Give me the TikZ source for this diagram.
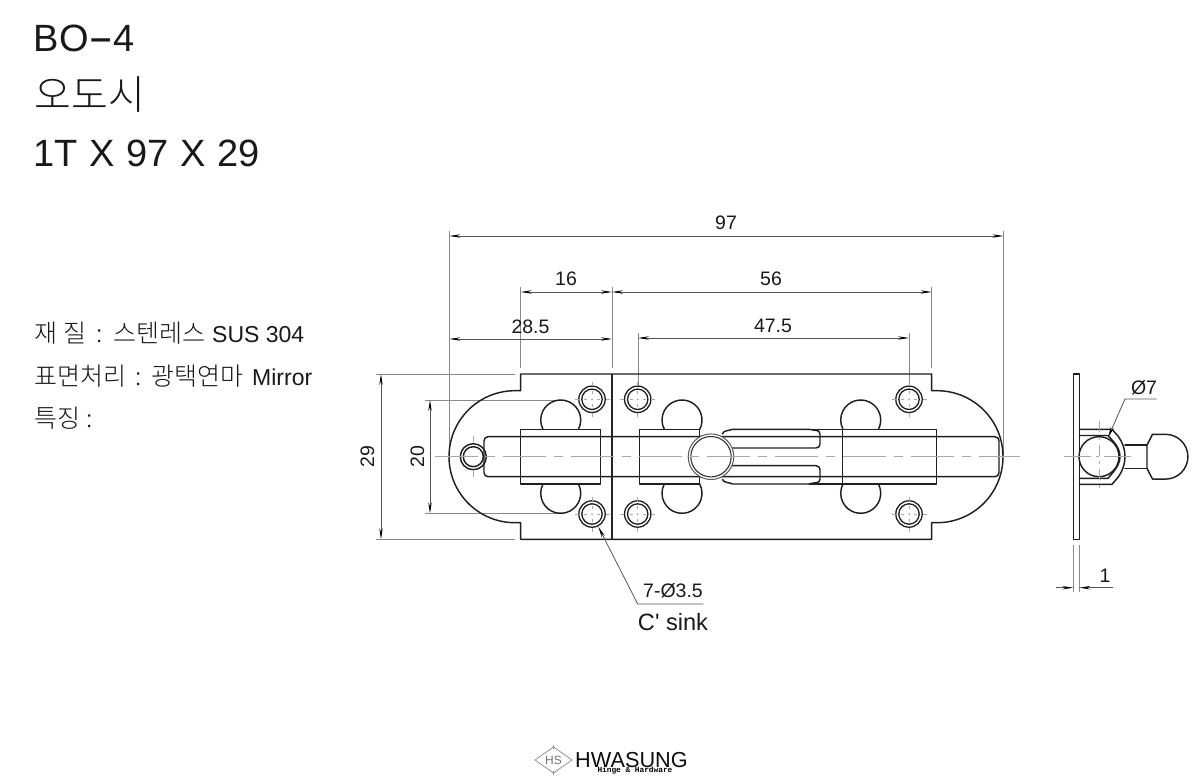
\documentclass[tikz,border=0pt]{standalone}
\usepackage{fontspec}
\setmainfont{Liberation Sans}
\newfontfamily\kr{Noto Sans CJK KR Light}
\newfontfamily\plainf{Liberation Sans}
\newfontfamily\mono{Liberation Mono}[BoldFont={Liberation Mono Bold}]
\usetikzlibrary{arrows.meta}
\definecolor{dimc}{HTML}{555555}
\definecolor{extc}{HTML}{8A8A8A}
\definecolor{cenc}{HTML}{A8A8A8}
\newcommand{\fs}[1]{\fontsize{#1}{#1}\selectfont}
\newcommand{\at}[2]{\makebox[#1pt][l]{#2}}
\tikzset{
  main/.style={line width=1.45pt,draw=black!88,line cap=round,line join=round},
  thick2/.style={line width=2pt,draw=black!85},
  dimline/.style={line width=0.8pt,draw=dimc,{Stealth[length=11pt,width=3.4pt,color=black]}-{Stealth[length=11pt,width=3.4pt,color=black]}},
  arrowend/.style={line width=0.8pt,draw=dimc,-{Stealth[length=11pt,width=3.4pt,color=black]}},
  extline/.style={line width=0.8pt,draw=extc},
  center line/.style={line width=1.1pt,draw=cenc,dash pattern=on 43pt off 8pt on 9pt off 8pt},
  tick/.style={line width=0.9pt,draw=cenc},
  dimtext/.style={font=\fs{19.5},inner sep=0pt,text=black!90},
  title/.style={font=\fs{38},anchor=base west,inner sep=0pt,text=black!90},
  spec/.style={font=\fs{23},anchor=base west,inner sep=0pt,text=black!90},
  holemark/.pic={
    \draw[main,line width=1.3pt] (0,0) circle (13.2);
    \draw[main,line width=1.3pt] (0,0) circle (10.2);
    \foreach \a in {0,90,180,270}{
      \draw[tick,rotate=\a] (5,0)--(8,0) (13.5,0)--(17.5,0);
    }
    \fill[cenc] (0,0) circle (1);
  },
}
\begin{document}
\begin{tikzpicture}[x=1pt,y=-1pt]
\useasboundingbox (0,0) rectangle (1200,779);
\fill[white] (0,0) rectangle (1200,779);

% titles
\node[title] (t1) at (33.5,51.5) {BO\scalebox{2}[1.1]{-}4};
\node[title,font=\fs{40}] (t2) at (34.5,109) {\kr 오도시};
\node[title] (t3) at (33,166.5) {\spaceskip=11.8pt 1T X 97 X 29};
\node[spec] (s1) at (34,342.3) {\at{29.5}{\fs{25}\kr 재}\at{32.5}{\fs{25}\kr 질}\at{17}{\fs{25}\kr :}\at{99}{\fs{25}\kr 스텐레스}SUS 304};
\node[spec] (s2) at (34,385) {\at{101}{\fs{25}\kr 표면처리}\at{16}{\fs{25}\kr :}\at{101}{\fs{25}\kr 광택연마}Mirror};
\node[spec] (s3) at (34,427) {\at{52}{\fs{25}\kr 특징}{\fs{25}\kr :}};

% extension lines
\draw[extline] (449.4,231)--(449.4,456.7);
\draw[extline] (1003.4,231)--(1003.4,456.7);
\draw[extline] (520.7,287)--(520.7,368);
\draw[extline] (612,287)--(612,368);
\draw[extline] (931.7,287)--(931.7,368);
\draw[extline] (638,333)--(638,386);
\draw[extline] (909,333)--(909,386);
\draw[extline] (376,374)--(515,374);
\draw[extline] (376,539.3)--(515,539.3);
\draw[extline] (425,400)--(562,400);
\draw[extline] (425,513.5)--(562,513.5);
\draw[extline] (1073.3,545)--(1073.3,592);
\draw[extline] (1079.3,545)--(1079.3,592);

% dimensions
\draw[dimline] (449.4,236)--(1003.4,236);
\draw[dimline] (520.7,292)--(612,292);
\draw[dimline] (612,292)--(931.7,292);
\draw[dimline] (449.4,339)--(612,339);
\draw[dimline] (638,338)--(909,338);
\draw[dimline] (381,374)--(381,539.3);
\draw[dimline] (430,400)--(430,513.5);
\node[dimtext] (d97) at (726,223) {97};
\node[dimtext] (d16) at (566,279) {16};
\node[dimtext] (d56) at (771,279) {56};
\node[dimtext] (d285) at (530.5,326.5) {28.5};
\node[dimtext] (d475) at (773,325.5) {47.5};
\node[dimtext,rotate=90] (d29) at (367.5,456.7) {29};
\node[dimtext,rotate=90] (d20) at (417.5,456.7) {20};

% plate
\draw[main] (515,390.7) arc (-90:-270:66) -- (520.7,522.7) -- (520.7,539.3) -- (931.7,539.3) -- (931.7,522.7) -- (937,522.7) arc (90:-90:66) -- (931.7,390.7) -- (931.7,374) -- (520.7,374) -- (520.7,390.7) -- cycle;
\draw[thick2] (612,374)--(612,539.3);

% holes
\foreach \hx/\hy in {592/399.3,592/514,637.7/399.3,637.7/514,909/399.3,909/514}{
  \pic at (\hx,\hy) {holemark};
}
\draw[main] (473.3,456.7) circle (13);
\draw[main] (473.3,456.7) circle (10);
\draw[tick] (473.3,436)--(473.3,442) (473.3,471)--(473.3,477);

% bar
\draw[main] (488,436.7)--(995,436.7) arc (-90:0:4) -- (999,472.7) arc (0:90:4) -- (488,476.7) arc (90:180:4) -- (484,440.7) arc (180:270:4);

% bumps
\foreach \cx in {560.7,682,860.7}{
  \draw[main] (\cx+17.7,429.3) arc (27.7:-207.7:20);
  \draw[main] (\cx+17.7,484) arc (-27.7:207.7:20);
}

% first staple
\draw[main] (520.7,429.3) rectangle (600.7,484);
% second staple
\draw[main] (699.7,429.3) -- (639.3,429.3) -- (639.3,484) -- (699.7,484);
\draw[main] (699.7,429.3)--(699.7,440) (699.7,484)--(699.7,473);
\draw[main] (722.3,434) .. controls (724,430) and (728,431) .. (732.7,429.3) -- (809.3,429.3) .. controls (814,431) and (820,429) .. (820,434) -- (820,444) arc (0:90:4) -- (725,448);
\draw[main] (722.3,479.3) .. controls (724,483) and (728,482) .. (732.7,484) -- (809.3,484) .. controls (814,482) and (820,484) .. (820,479.3) -- (820,469.7) arc (0:-90:4) -- (725,465.7);
\draw[main] (809.3,429.3) -- (936.3,429.3) -- (936.3,484) -- (809.3,484);
\draw[main] (842.7,429.3)--(842.7,484);

% knob
\draw[line width=1pt,draw=black!65,fill=white] (711,456.7) circle (22.8);
\draw[line width=1.1pt,draw=black!80] (711,456.7) circle (20.2);

% main centre line
\draw[center line] (434.7,456.7)--(1020,456.7);

% side view
\draw[main] (1073.3,374) rectangle (1079.3,539.3);
\draw[main] (1079.3,429.3)--(1112,429.3)--(1118,436) .. controls (1122.5,442) and (1125,449) .. (1125,456.7) .. controls (1125,464) and (1122.5,471) .. (1118,477.4) -- (1112,484.3) -- (1079.3,484.3);
\draw[main] (1079.3,435.5)--(1108,435.5)--(1113,441) .. controls (1117.5,446) and (1120,451) .. (1120,456.7) .. controls (1120,462) and (1117.5,467) .. (1113,472.4) -- (1108,478.3) -- (1079.3,478.3);
\draw[main] (1099,456.7) circle (20);
\draw[main] (1125,445)--(1147,445) (1125,468.3)--(1147,468.3);
\draw[main] (1147,445)--(1152.5,434.3)--(1165.5,434.3) arc (-90:90:22.4)--(1152.5,479.1)--(1147,468.3)--cycle;
\draw[tick,dash pattern=on 27pt off 5pt on 3pt off 5pt] (1064,456.7)--(1134,456.7);
\draw[tick,dash pattern=on 11pt off 5pt on 3pt off 5pt] (1099,421)--(1099,492);

% dia 7 leader
\coordinate (l7a) at (1156.7,399);
\coordinate (l7b) at (1125,399);
\coordinate (l7c) at (1108,437.5);
\draw[arrowend] (l7a)--(l7b)--(l7c);
\node[dimtext] (d7) at (1144,387.5) {Ø7};

% dim 1
\coordinate (o1a) at (1056,587.7);
\coordinate (o1b) at (1073.3,587.7);
\coordinate (o1c) at (1113,587.7);
\coordinate (o1d) at (1079.3,587.7);
\draw[arrowend] (o1a)--(o1b);
\draw[arrowend] (o1c)--(o1d);
\node[dimtext] (d1) at (1105,576) {1};

% hole leader
\coordinate (h1) at (703.3,604);
\coordinate (h2) at (637.7,604);
\coordinate (h3) at (598.3,526.7);
\draw[arrowend] (h1)--(h2)--(h3);
\node[dimtext] (dh) at (673,591) {7-Ø3.5};
\node[font=\fs{23.6}\plainf,inner sep=0pt,text=black!90] (cs) at (673,622) {C' sink};

% logo
\draw[line width=0.7pt,draw=extc] (535,760)--(553.5,747)--(572,760)--(553.5,773)--cycle;
\draw[line width=0.7pt,draw=extc] (553.5,745)--(553.5,749) (553.5,771)--(553.5,775);
\node[font=\fs{12},text=black!55,inner sep=0pt] (hs) at (553.5,760) {HS};
\node[font=\fs{21.7},anchor=base west,inner sep=0pt,text=black!95] (hw) at (575,767.5) {HWASUNG};
\node[font=\fs{7.8}\mono\bfseries,anchor=base west,inner sep=0pt] (hh) at (597.3,772.5) {Hinge \& Hardware};
\end{tikzpicture}
\end{document}
